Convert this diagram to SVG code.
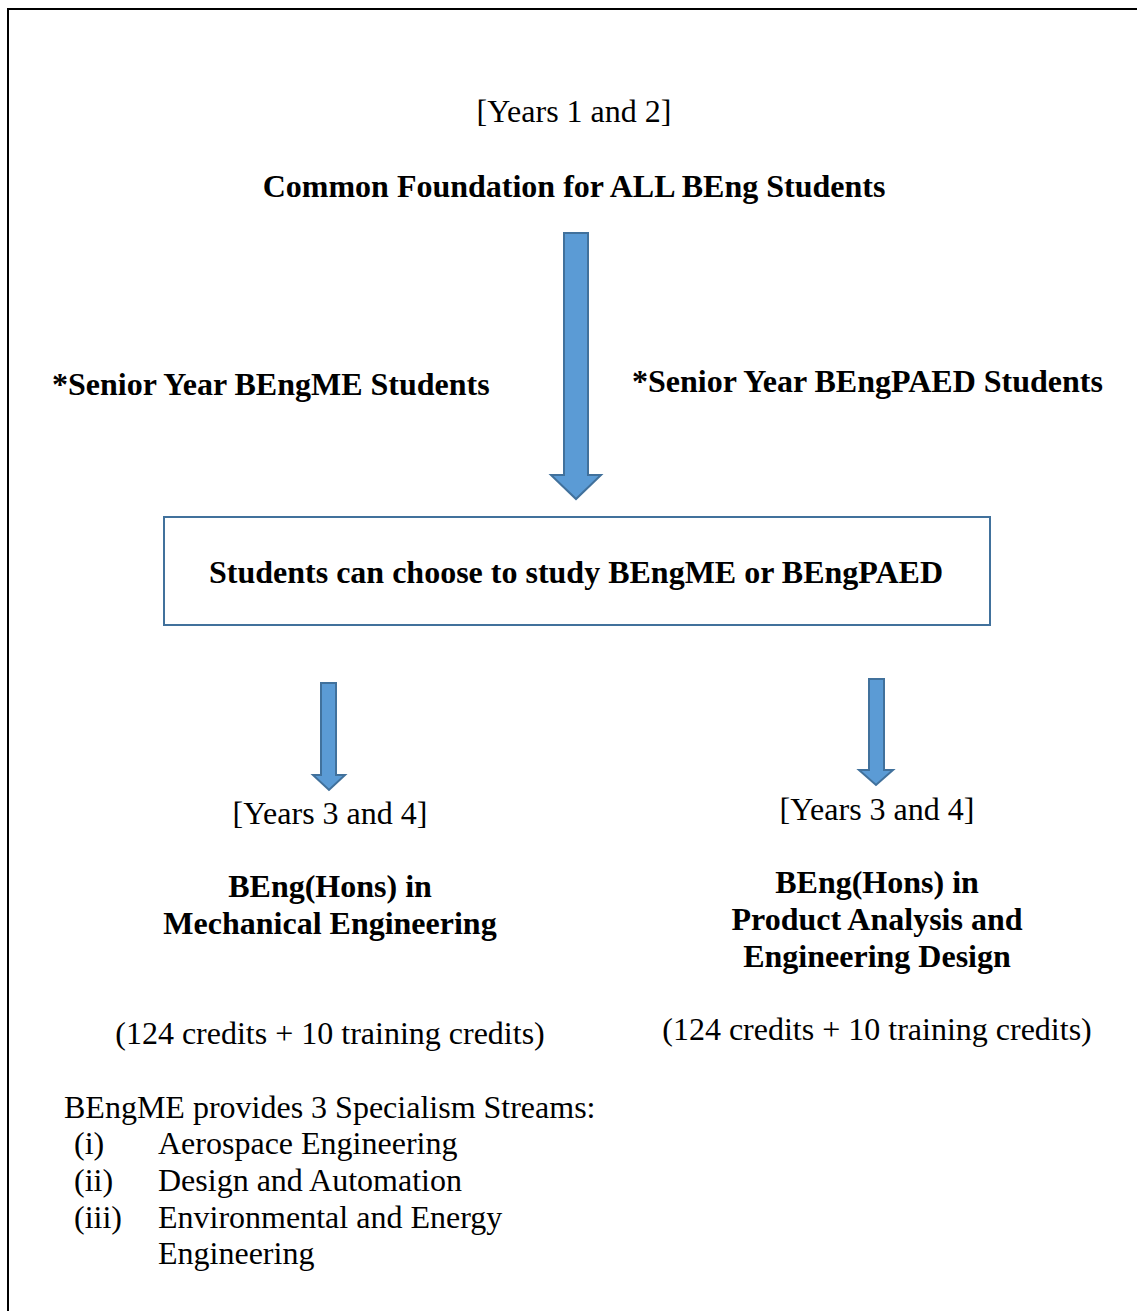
<svg xmlns="http://www.w3.org/2000/svg" width="1137" height="1311" viewBox="0 0 1137 1311">
<style>
.t{font-family:"Liberation Serif","Times New Roman",serif;font-size:32px;fill:#000}
.b{font-weight:bold}
.m{text-anchor:middle}
.arrow{fill:#5B9BD5;stroke:#41719C;stroke-width:2;stroke-linejoin:miter}
</style>
<rect x="0" y="0" width="1137" height="1311" fill="#fff"/>
<rect x="8" y="9" width="1140" height="1320" fill="none" stroke="#000" stroke-width="2"/>
<g id="top-label">
<text class="t m" x="574" y="122">[Years 1 and 2]</text>
<text class="t b m" x="574" y="197">Common Foundation for ALL BEng Students</text>
</g>
<g id="left-side-label"><text class="t b" x="52" y="395">*Senior Year BEngME Students</text></g>
<g id="right-side-label"><text class="t b" x="632" y="392">*Senior Year BEngPAED Students</text></g>
<g id="choice-box">
<rect x="164" y="517" width="826" height="108" fill="#fff" stroke="#41719C" stroke-width="2"/>
<text class="t b m" x="576" y="583">Students can choose to study BEngME or BEngPAED</text>
</g>
<g id="me-node">
<text class="t m" x="330" y="824">[Years 3 and 4]</text>
<text class="t b m" x="330" y="897">BEng(Hons) in</text>
<text class="t b m" x="330" y="934">Mechanical Engineering</text>
<text class="t m" x="330" y="1044">(124 credits + 10 training credits)</text>
<text class="t" x="64" y="1118">BEngME provides 3 Specialism Streams:</text>
<text class="t" x="74" y="1154">(i)</text><text class="t" x="158" y="1154">Aerospace Engineering</text>
<text class="t" x="74" y="1191">(ii)</text><text class="t" x="158" y="1191">Design and Automation</text>
<text class="t" x="74" y="1228">(iii)</text><text class="t" x="158" y="1228">Environmental and Energy</text>
<text class="t" x="158" y="1264">Engineering</text>
</g>
<g id="paed-node">
<text class="t m" x="877" y="820">[Years 3 and 4]</text>
<text class="t b m" x="877" y="893">BEng(Hons) in</text>
<text class="t b m" x="877" y="930">Product Analysis and</text>
<text class="t b m" x="877" y="967">Engineering Design</text>
<text class="t m" x="877" y="1040">(124 credits + 10 training credits)</text>
</g>
<g id="connectors">
<polygon class="arrow" points="564,233 588,233 588,475 601,475 576,499 551,475 564,475"/>
<polygon class="arrow" points="321,683 336,683 336,775 345,775 329,790 313,775 321,775"/>
<polygon class="arrow" points="869,679 884,679 884,770 893,770 876,785 859,770 869,770"/>
</g>
</svg>
